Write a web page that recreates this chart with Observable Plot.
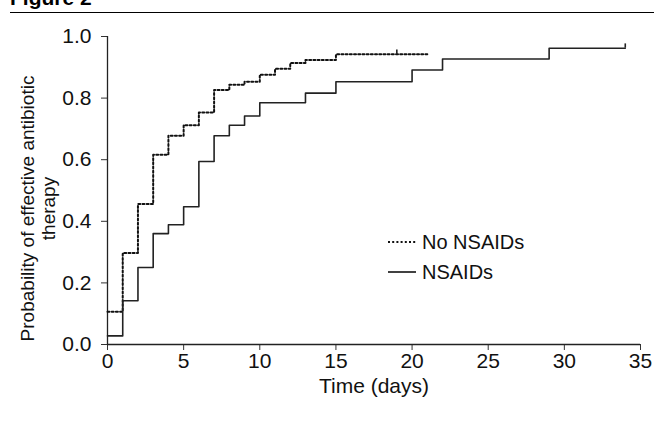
<!DOCTYPE html>
<html>
<head>
<meta charset="utf-8">
<script src="https://cdn.jsdelivr.net/npm/d3@7"></script>
<script src="https://cdn.jsdelivr.net/npm/@observablehq/plot@0.6"></script>
<style>
  html, body { margin: 0; padding: 0; background: #fff; }
  body { width: 654px; height: 422px; overflow: hidden; position: relative; font-family: "Liberation Sans", Arial, sans-serif; }
  #title { position: absolute; left: 10px; top: -13px; font-weight: bold; font-size: 21px; line-height: 21px; color: #000; white-space: nowrap; }
  #rule { position: absolute; left: 10px; right: 0; top: 12px; height: 0; border-top: 1px solid #000; }
  #chart { position: absolute; left: 0; top: 0; }
  #legend { position: absolute; left: 387px; top: 227px; font-size: 20px; color: #111; }
  #legend .row { display: flex; align-items: center; height: 30px; }
  #legend svg { margin-right: 5px; }
</style>
</head>
<body>
<div id="title">Figure 2</div>
<div id="rule"></div>
<div id="chart"></div>
<div id="legend"></div>
<script>
// Kaplan–Meier step data
const noNsaidTimes  = [0, 1, 2, 3, 4, 5, 6, 7, 8, 9, 10, 11, 12, 13, 15, 21];
const noNsaidValues = [0.106, 0.297, 0.456, 0.616, 0.678, 0.712, 0.753, 0.826, 0.843, 0.853, 0.876, 0.895, 0.914, 0.924, 0.942, 0.942];
const nsaidTimes    = [0, 1, 2, 3, 4, 5, 6, 7, 8, 9, 10, 13, 15, 20, 22, 29, 34];
const nsaidValues   = [0.028, 0.142, 0.25, 0.36, 0.389, 0.447, 0.594, 0.678, 0.712, 0.742, 0.785, 0.816, 0.853, 0.891, 0.927, 0.962, 0.962];
// censoring marks
const noNsaidCensorTimes = [19];
const noNsaidCensorValues = [0.942];
const nsaidCensorTimes = [34];
const nsaidCensorValues = [0.962];
const censorHeight = 0.014;

const seriesNames = ["No NSAIDs", "NSAIDs"];
const xTicks = [0, 5, 10, 15, 20, 25, 30, 35];
const yTicks = [0, 0.2, 0.4, 0.6, 0.8, 1.0];
const xLabel = "Time (days)";
const yLabel = "Probability of effective antibiotic\ntherapy";

const noNsaid = noNsaidTimes.map((t, i) => ({t, p: noNsaidValues[i]}));
const nsaid = nsaidTimes.map((t, i) => ({t, p: nsaidValues[i]}));
const noCens = noNsaidCensorTimes.map((t, i) => ({t, p: noNsaidCensorValues[i]}));
const nsCens = nsaidCensorTimes.map((t, i) => ({t, p: nsaidCensorValues[i]}));

const dash = "2,2.2";
const solidColor = "#222";

const chart = Plot.plot({
  width: 654,
  height: 422,
  marginLeft: 107,
  marginRight: 14,
  marginTop: 36,
  marginBottom: 78,
  style: { fontFamily: "'Liberation Sans', Arial, sans-serif", fontSize: "20px", color: "#111", background: "transparent", overflow: "visible" },
  x: { domain: [0, 35] },
  y: { domain: [0, 1] },
  marks: [
    Plot.axisX({ ticks: xTicks, tickSize: 6, tickPadding: 3, tickFormat: d => String(d), fontSize: 21, label: null, stroke: "#333" }),
    Plot.axisY({ ticks: yTicks, tickSize: 6, tickPadding: 10, tickFormat: d3.format(".1f"), fontSize: 21, label: null, stroke: "#333" }),
    Plot.ruleX([0], { stroke: "#222", strokeWidth: 1.3 }),
    Plot.ruleY([0], { stroke: "#222", strokeWidth: 1.3 }),
    Plot.line(noNsaid, { x: "t", y: "p", curve: "step-after", stroke: "#111", strokeWidth: 2, strokeDasharray: dash }),
    Plot.line(nsaid, { x: "t", y: "p", curve: "step-after", stroke: solidColor, strokeWidth: 1.6 }),
    Plot.ruleX(noCens, { x: "t", y1: "p", y2: d => d.p + censorHeight, stroke: "#111", strokeWidth: 1.5 }),
    Plot.ruleX(nsCens, { x: "t", y1: "p", y2: d => d.p + censorHeight, stroke: solidColor, strokeWidth: 1.6 }),
    Plot.text([xLabel], { frameAnchor: "bottom", dy: 48, fontSize: 21, fill: "#111" }),
    Plot.text([yLabel], { frameAnchor: "left", textAnchor: "middle", lineAnchor: "middle", rotate: -90, dx: -70, dy: 18, fontSize: 19, lineHeight: 1.1, fill: "#111" })
  ]
});
document.getElementById("chart").appendChild(chart);

// legend
const legend = document.getElementById("legend");
seriesNames.forEach((name, i) => {
  const row = document.createElement("div");
  row.className = "row";
  const sw = d3.create("svg").attr("width", 30).attr("height", 10);
  sw.append("line").attr("x1", 1).attr("x2", 29).attr("y1", 5).attr("y2", 5)
    .attr("stroke", "#111").attr("stroke-width", i === 0 ? 2 : 1.6)
    .attr("stroke-dasharray", i === 0 ? dash : null);
  row.appendChild(sw.node());
  const span = document.createElement("span");
  span.textContent = name;
  row.appendChild(span);
  legend.appendChild(row);
});
</script>
</body>
</html>
